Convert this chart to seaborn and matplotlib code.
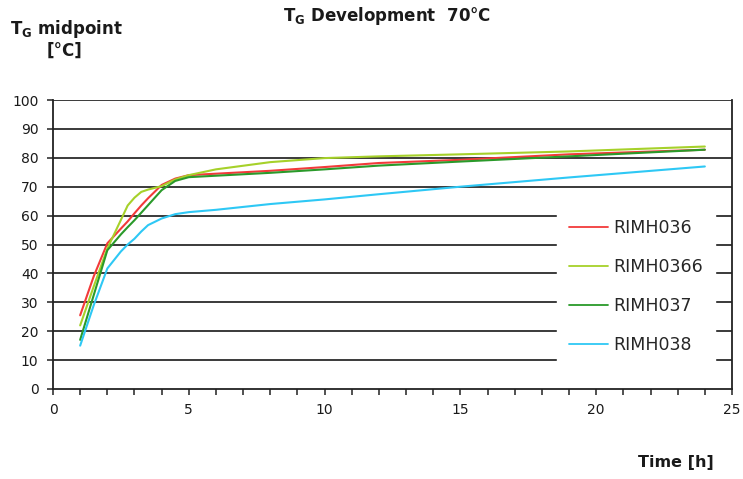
import matplotlib
matplotlib.use("Agg")
import matplotlib.pyplot as plt
import seaborn as sns
import pandas as pd
from matplotlib.ticker import MultipleLocator

# ---- data ----
time_h = [1, 1.5, 2, 2.5, 2.75, 3, 3.25, 3.5, 4, 4.5, 5, 6, 8, 10, 12, 15, 19, 24]
rimh036 = [25.5, 39, 50.4, 55.5, 58.0, 60.8, 63.5, 66, 70.6, 72.8, 74, 74.5, 75.5, 76.8, 78.2, 79.3, 81.2, 82.8]
rimh0366 = [22, 35.5, 48.6, 58.5, 63.5, 66.2, 68.2, 69, 70.2, 72.5, 74, 76, 78.5, 79.9, 80.5, 81.2, 82.2, 83.9]
rimh037 = [17, 32.5, 48, 53.5, 56.0, 58.4, 61.0, 63.6, 68.8, 72, 73.3, 73.8, 74.8, 76, 77.3, 78.7, 80.5, 82.8]
rimh038 = [15, 29, 41.7, 47.6, 50.0, 52, 54.5, 56.7, 59, 60.5, 61.2, 62, 64, 65.6, 67.4, 70, 73.2, 77]
series_names = ["RIMH036", "RIMH0366", "RIMH037", "RIMH038"]
series_colors = ["#F23A3A", "#A6D12A", "#2A9A2A", "#2EC8F5"]
y_ticks = list(range(0, 101, 10))
x_ticks = [0, 5, 10, 15, 20, 25]

frames = []
for name, vals in zip(series_names, [rimh036, rimh0366, rimh037, rimh038]):
    frames.append(pd.DataFrame({"Time": time_h, "Tg": vals, "Sample": name}))
df = pd.concat(frames, ignore_index=True)

sns.set_theme(style="white")
plt.rcParams["font.family"] = ["DejaVu Sans"]
plt.rcParams["mathtext.fontset"] = "dejavusans"

fig = plt.figure(figsize=(7.43, 4.79), dpi=100)
ax = fig.add_axes([53/743, 1-389/479, (732-53)/743, (389-100)/479])

sns.lineplot(data=df, x="Time", y="Tg", hue="Sample", hue_order=series_names,
             palette=series_colors, linewidth=1.5, ax=ax, zorder=3)

ax.set_xlim(0, 25)
ax.set_ylim(0, 100)
ax.set_xticks(x_ticks)
ax.set_yticks(y_ticks)
ax.xaxis.set_minor_locator(MultipleLocator(1))
ax.grid(False)
for v in y_ticks[1:]:
    ax.axhline(v, color="#3a3a3a", linewidth=1.4, zorder=1)

for s in ["left", "bottom", "right"]:
    ax.spines[s].set_color("#222222")
    ax.spines[s].set_linewidth(1.3)
ax.spines["top"].set_visible(False)

ax.tick_params(axis="both", which="major", direction="out", length=4, width=1.1,
               color="#222222", labelsize=10, labelcolor="#1a1a1a")
ax.tick_params(axis="y", which="major", pad=6.5)
ax.tick_params(axis="x", which="major", pad=6)
ax.tick_params(axis="x", which="minor", direction="out", length=4, width=1.1,
               color="#222222", bottom=True)
ax.tick_params(left=True, bottom=True)
ax.set_xlabel("")
ax.set_ylabel("")

leg = ax.legend(loc="upper left", bbox_to_anchor=((557-53)/679, (389-207)/289),
                frameon=True, facecolor="white", edgecolor="white", framealpha=1,
                fontsize=12.5, handlelength=2.25, handletextpad=0.3,
                labelspacing=1.2, borderpad=0.7, borderaxespad=0)
leg.set_zorder(5)
for line in leg.get_lines():
    line.set_linewidth(1.3)

fig.text(387/743, 1-16/479, r"$\mathbf{T_G}$ Development  70°C", ha="center", va="center",
         fontsize=12, fontweight="bold", color="#1a1a1a")
fig.text(66/743, 1-29/479, r"$\mathbf{T_G}$ midpoint", ha="center", va="center",
         fontsize=12, fontweight="bold", color="#1a1a1a")
fig.text(64/743, 1-51/479, "[°C]", ha="center", va="center",
         fontsize=12, fontweight="bold", color="#1a1a1a")
fig.text(676/743, 1-462/479, "Time [h]", ha="center", va="center",
         fontsize=11.5, fontweight="bold", color="#1a1a1a")

fig.savefig("out.png", dpi=100)
